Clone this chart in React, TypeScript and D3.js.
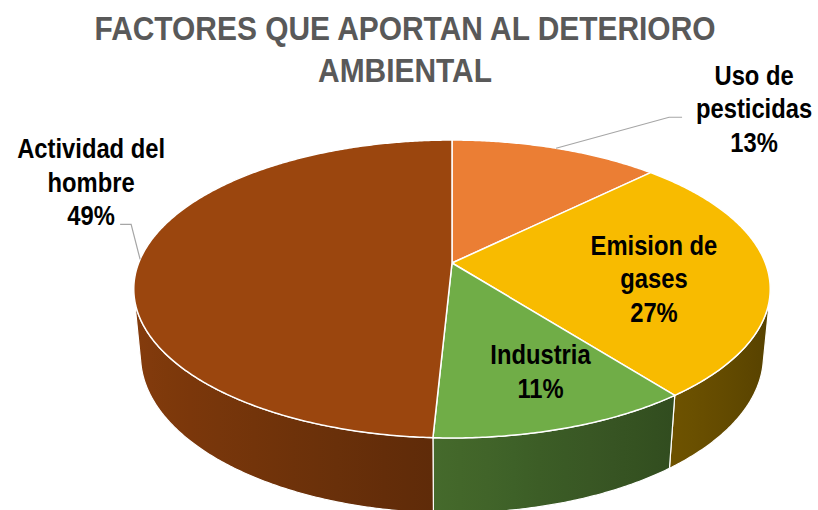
import React from "react";
import * as d3 from "d3";

// chart data
const categories = ["Uso de pesticidas", "Emision de gases", "Industria", "Actividad del hombre"];
const values = [12.6, 26.9, 11.3, 49.2];
const labelLines = [["Uso de", "pesticidas"], ["Emision de", "gases"], ["Industria"], ["Actividad del", "hombre"]];
const colors = ["#EB7E34", "#F8BB00", "#70AD47", "#9B460E"];
const titleLines = ["FACTORES QUE APORTAN AL DETERIORO", "AMBIENTAL"];

// layout of the 3d pie
const W = 818, H = 510;
const CX = 452, CY = 263;
const K = 1624, DIST = 5.105, TILT = (27 * Math.PI) / 180, THICK = 0.237, XS = 0.985;
const FONT = "'Liberation Sans', Arial, sans-serif";
const LINE_H = 33.5;
const NARROW = 0.88;

// label placement: outside labels with leaders, inside labels at a radius
const labelLayout = [
  { kind: "out", elbow: [113, -31], end: 13, dx: 72, anchorLine: 1 },
  { kind: "in", r: 0.66, dx: -6, dy: 9 },
  { kind: "in", r: 0.7, dx: 14, dy: -1 },
  { kind: "out", elbow: [-9, -35], end: -11, dx: -29, anchorLine: 2 },
];

function project(theta: number, r: number, h: number): [number, number] {
  const u = r * Math.sin(theta), v = r * Math.cos(theta);
  const s = Math.sin(TILT), c = Math.cos(TILT);
  const Y = v * s + h * c;
  const Z = DIST + v * c - h * s;
  return [CX + (K * XS * u) / Z, CY - (K * Y) / Z];
}

function shade(base: string, f: number) {
  const c = d3.rgb(base);
  return d3.rgb(c.r * f, c.g * f, c.b * f).formatHex();
}

const wallShade = (t: number) => 0.6 - 0.26 * Math.sin(t);

function Lines({ x, y, lines, size, fill }: { x: number; y: number; lines: string[]; size: number; fill: string }) {
  return (
    <text transform={`translate(${x},${y}) scale(${NARROW},1)`} textAnchor="middle" fontFamily={FONT} fontWeight="bold" fontSize={size} fill={fill}>
      {lines.map((l, k) => (
        <tspan key={k} x={0} y={k * LINE_H}>
          {l}
        </tspan>
      ))}
    </text>
  );
}

export default function App() {
  const arcs = d3.pie<number>().sort(null).startAngle(0).endAngle(2 * Math.PI)(values);
  const line = d3.line();
  const step = Math.PI / 360;

  const sampleArc = (a0: number, a1: number, r: number, h: number) => {
    const n = Math.max(2, Math.ceil((a1 - a0) / step));
    return d3.range(n + 1).map((i) => project(a0 + ((a1 - a0) * i) / n, r, h));
  };

  // visible part of the outer wall
  const lim = Math.acos(-1 / (Math.cos(TILT) * DIST));
  const visLo = lim, visHi = 2 * Math.PI - lim;

  const total = d3.sum(values);

  return (
    <svg width={W} height={H} style={{ position: "absolute", left: 0, top: 0, background: "#fff" }}>
      <defs>
        {arcs.map((a, i) => {
          const lo = Math.max(a.startAngle, visLo), hi = Math.min(a.endAngle, visHi);
          if (hi <= lo) return null;
          const ts = d3.range(11).map((k) => lo + ((hi - lo) * k) / 10);
          const xs = ts.map((t) => project(t, 1, 0)[0]);
          const x0 = d3.min(xs)!, x1 = d3.max(xs)!;
          return (
            <linearGradient key={i} id={`wall${i}`} gradientUnits="userSpaceOnUse" x1={x0} x2={x1} y1={0} y2={0}>
              {ts
                .map((t, k) => ({ o: (xs[k] - x0) / (x1 - x0), c: shade(colors[i], wallShade(t)) }))
                .sort((p, q) => p.o - q.o)
                .map((st, k) => (
                  <stop key={k} offset={st.o} stopColor={st.c} />
                ))}
            </linearGradient>
          );
        })}
      </defs>

      {titleLines.map((t, i) => (
        <text key={t} transform={`translate(405,${40 + i * 42}) scale(${NARROW},1)`} textAnchor="middle" fontFamily={FONT} fontWeight="bold" fontSize={34} fill="#595959">
          {t}
        </text>
      ))}

      {/* walls */}
      {arcs.map((a, i) => {
        const lo = Math.max(a.startAngle, visLo), hi = Math.min(a.endAngle, visHi);
        if (hi <= lo) return null;
        const pts = [...sampleArc(lo, hi, 1, 0), ...sampleArc(lo, hi, 1, -THICK).reverse()];
        return <path key={i} d={line(pts) + "Z"} fill={`url(#wall${i})`} stroke="#fff" strokeWidth={1.2} strokeLinejoin="round" />;
      })}

      {/* top faces */}
      {arcs.map((a, i) => {
        const pts = [project(0, 0, 0), ...sampleArc(a.startAngle, a.endAngle, 1, 0)];
        return <path key={i} d={line(pts) + "Z"} fill={colors[i]} stroke="#fff" strokeWidth={1.5} strokeLinejoin="round" />;
      })}

      {/* labels */}
      {arcs.map((a, i) => {
        const mid = (a.startAngle + a.endAngle) / 2;
        const lay = labelLayout[i];
        const pct = `${Math.round((values[i] / total) * 100)}%`;
        const lines = [...labelLines[i], pct];
        if (lay.kind === "out") {
          const p = project(mid, 1, 0);
          const e = [p[0] + lay.elbow![0], p[1] + lay.elbow![1]];
          const f = [e[0] + lay.end!, e[1]];
          const cx = f[0] + lay.dx;
          const base0 = e[1] + 1 - lay.anchorLine! * LINE_H;
          return (
            <g key={i}>
              <polyline points={[p, e, f].map((q) => q.join(",")).join(" ")} fill="none" stroke="#A6A6A6" strokeWidth={1.2} />
              <Lines x={cx} y={base0} lines={lines} size={27} fill="#000" />
            </g>
          );
        }
        const c = project(mid, lay.r!, 0);
        const cx = c[0] + lay.dx;
        const cy = c[1] + lay.dy!;
        const base0 = cy - ((lines.length - 1) * LINE_H) / 2 + 10;
        return <Lines key={i} x={cx} y={base0} lines={lines} size={27} fill="#000" />;
      })}
    </svg>
  );
}
